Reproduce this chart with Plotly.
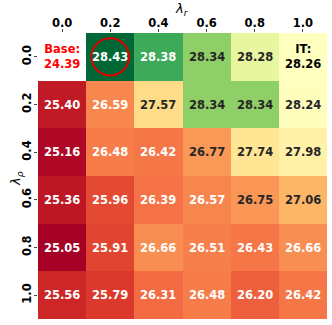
import numpy as np
import plotly.graph_objects as go

# ---- data ----
lambda_r = ["0.0", "0.2", "0.4", "0.6", "0.8", "1.0"]      # columns
lambda_rho = ["0.0", "0.2", "0.4", "0.6", "0.8", "1.0"]    # rows
base_score = 24.39
it_score = 28.26
row_0_0 = [None, 28.43, 28.38, 28.34, 28.28, 28.26]
row_0_2 = [25.40, 26.59, 27.57, 28.34, 28.34, 28.24]
row_0_4 = [25.16, 26.48, 26.42, 26.77, 27.74, 27.98]
row_0_6 = [25.36, 25.96, 26.39, 26.57, 26.75, 27.06]
row_0_8 = [25.05, 25.91, 26.66, 26.51, 26.43, 26.66]
row_1_0 = [25.56, 25.79, 26.31, 26.48, 26.20, 26.42]

rows = [row_0_0, row_0_2, row_0_4, row_0_6, row_0_8, row_1_0]
Z = np.array([[np.nan if v is None else v for v in r] for r in rows], dtype=float)

# ---- two-slope colour norm (centred on IT score) built into a colorscale ----
rdylgn = ["#a50026", "#d73027", "#f46d43", "#fdae61", "#fee08b", "#ffffbf",
          "#d9ef8b", "#a6d96a", "#66bd63", "#1a9850", "#006837"]
vmin = np.nanmin(Z)
vmax = np.nanmax(Z)
center = it_score


def frac_to_raw(f):
    if f <= 0.5:
        return vmin + (f / 0.5) * (center - vmin)
    return center + ((f - 0.5) / 0.5) * (vmax - center)


colorscale = []
for k, c in enumerate(rdylgn):
    f = k / 10
    pos = (frac_to_raw(f) - vmin) / (vmax - vmin)
    colorscale.append([min(max(pos, 0), 1), c])


def hex2rgb(h):
    h = h.lstrip("#")
    return np.array([int(h[i:i + 2], 16) for i in (0, 2, 4)], dtype=float)


def color_at(v):
    if v <= center:
        f = 0.5 * (v - vmin) / (center - vmin)
    else:
        f = 0.5 + 0.5 * (v - center) / (vmax - center)
    f = min(max(f, 0), 1) * 10
    i = min(int(np.floor(f)), 9)
    t = f - i
    return (1 - t) * hex2rgb(rdylgn[i]) + t * hex2rgb(rdylgn[i + 1])


def luminance(rgb):
    c = rgb / 255.0
    c = np.where(c <= 0.03928, c / 12.92, ((c + 0.055) / 1.055) ** 2.4)
    return 0.2126 * c[0] + 0.7152 * c[1] + 0.0722 * c[2]


nx = len(lambda_r)
ny = len(lambda_rho)
xi = list(range(nx))
yi = list(range(ny))

fig = go.Figure(go.Heatmap(
    z=Z, x=xi, y=yi, colorscale=colorscale, zmin=vmin, zmax=vmax,
    showscale=False, hoverongaps=False, xgap=0, ygap=0,
))

FONT = "DejaVu Sans"
annotations = []
for r in range(ny):
    for c in range(nx):
        v = Z[r, c]
        if np.isnan(v):
            annotations.append(dict(
                x=c, y=r, xref="x", yref="y", showarrow=False,
                text=f"Base:<br>{base_score:.2f}",
                font=dict(family=FONT, size=11.5, color="#ff0000", weight="bold"),
            ))
            continue
        if r == 0 and c == nx - 1:
            annotations.append(dict(
                x=c, y=r, xref="x", yref="y", showarrow=False,
                text=f"IT:<br>{it_score:.2f}",
                font=dict(family=FONT, size=11.5, color="#000000", weight="bold"),
            ))
            continue
        col = "#262626" if luminance(color_at(v)) > 0.408 else "#ffffff"
        annotations.append(dict(
            x=c, y=r, xref="x", yref="y", showarrow=False,
            text=f"{v:.2f}",
            font=dict(family=FONT, size=11.5, color=col, weight="bold"),
        ))

# axis titles
annotations.append(dict(
    xref="paper", yref="paper", x=0.5, y=1, yanchor="middle", xanchor="center",
    yshift=24, xshift=-1, showarrow=False, text="<i>λ<sub>r</sub></i>",
    font=dict(family=FONT, size=13, color="black"),
))
annotations.append(dict(
    xref="paper", yref="paper", x=0, y=0.5, yanchor="middle", xanchor="center",
    xshift=-22, yshift=-3, textangle=-90, showarrow=False,
    text="<i>λ<sub>ρ</sub></i>",
    font=dict(family=FONT, size=13, color="black"),
))

# circle around the best cell
br, bc = np.unravel_index(np.nanargmax(Z), Z.shape)
rad = 0.39
shapes = [dict(type="circle", xref="x", yref="y",
               x0=bc - rad, x1=bc + rad, y0=br - rad, y1=br + rad,
               line=dict(color="#e00000", width=2))]

fig.update_layout(
    width=332, height=325,
    margin=dict(l=38, r=5, t=33, b=6),
    paper_bgcolor="white", plot_bgcolor="white",
    annotations=annotations, shapes=shapes,
    font=dict(family=FONT, color="black"),
    xaxis=dict(
        side="top", tickvals=xi, ticktext=lambda_r, range=[-0.5, nx - 0.5],
        showgrid=False, zeroline=False, ticks="outside", ticklen=3,
        tickcolor="#444", tickwidth=0.8, automargin=False,
        ticklabelstandoff=-3,
        tickfont=dict(family=FONT, size=11.5, weight="bold", color="black"),
    ),
    yaxis=dict(
        tickvals=yi, ticktext=lambda_rho, range=[ny - 0.5, -0.5],
        showgrid=False, zeroline=False, ticks="outside", ticklen=3,
        tickcolor="#444", tickwidth=0.8, tickangle=-90, automargin=False,
        ticklabelstandoff=-2,
        tickfont=dict(family=FONT, size=11.5, weight="bold", color="black"),
    ),
)

fig.write_html("out.html", config={"displayModeBar": False},
               post_script="document.body.style.margin='0';")
